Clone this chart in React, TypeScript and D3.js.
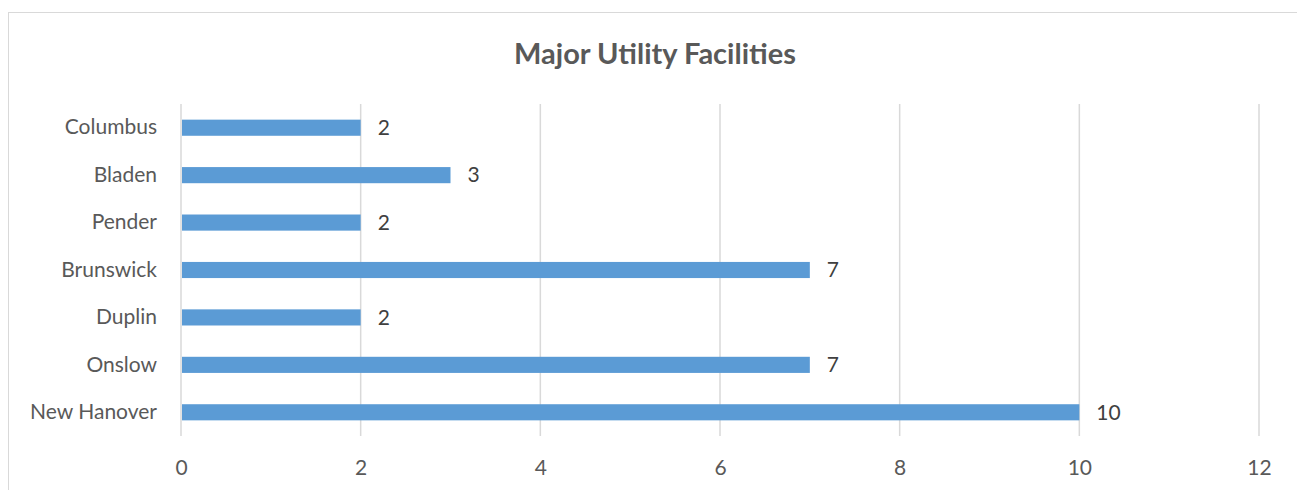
import React, { useEffect, useRef } from 'react'
import * as d3 from 'd3'

const counties = ['Columbus', 'Bladen', 'Pender', 'Brunswick', 'Duplin', 'Onslow', 'New Hanover']
const facilities = [2, 3, 2, 7, 2, 7, 10]
const xTicks = [0, 2, 4, 6, 8, 10, 12]

export default function App() {
  const ref = useRef<SVGSVGElement>(null)

  useEffect(() => {
    const width = 1297
    const height = 490
    const margin = { top: 104, right: 38, bottom: 54, left: 181 }
    const font = 'Lato, "Open Sans", sans-serif'

    const svg = d3.select(ref.current)
    svg.selectAll('*').remove()

    // chart frame
    svg.append('rect')
      .attr('x', 8.5).attr('y', 12.5)
      .attr('width', width + 20).attr('height', height + 20)
      .attr('fill', '#fff').attr('stroke', '#d9d9d9').attr('stroke-width', 1)

    const x = d3.scaleLinear()
      .domain([0, 12])
      .range([margin.left, width - margin.right])
    const y = d3.scaleBand()
      .domain(counties)
      .range([margin.top, height - margin.bottom])
      .paddingInner(0.66)
      .paddingOuter(0.33)

    svg.append('text')
      .attr('x', 655).attr('y', 64)
      .attr('text-anchor', 'middle')
      .attr('font-family', font)
      .attr('font-weight', 'bold')
      .attr('font-size', 29)
      .attr('fill', '#595959')
      .text('Major Utility Facilities')

    // gridlines
    svg.append('g')
      .selectAll('line')
      .data(xTicks)
      .join('line')
        .attr('x1', d => x(d)).attr('x2', d => x(d))
        .attr('y1', margin.top).attr('y2', height - margin.bottom)
        .attr('stroke', '#d9d9d9')
        .attr('stroke-width', 1.5)

    const xAxis = svg.append('g')
      .attr('transform', `translate(0,${height - margin.bottom})`)
      .call(d3.axisBottom(x).tickValues(xTicks).tickSize(0).tickPadding(24))
    xAxis.select('.domain').remove()
    xAxis.selectAll('text')
      .attr('font-family', font).attr('font-size', 21).attr('fill', '#595959')

    const yAxis = svg.append('g')
      .attr('transform', `translate(${margin.left},0)`)
      .call(d3.axisLeft(y).tickSize(0).tickPadding(24))
    yAxis.select('.domain').remove()
    yAxis.selectAll('text')
      .attr('font-family', font).attr('font-size', 21).attr('fill', '#595959')

    const data = counties.map((c, i) => ({ name: c, value: facilities[i] }))

    svg.append('g')
      .selectAll('rect')
      .data(data)
      .join('rect')
        .attr('x', x(0) + 1)
        .attr('y', d => y(d.name)!)
        .attr('width', d => x(d.value) - x(0) - 1)
        .attr('height', y.bandwidth())
        .attr('fill', '#5b9bd5')

    svg.append('g')
      .selectAll('text')
      .data(data)
      .join('text')
        .attr('x', d => x(d.value) + 17)
        .attr('y', d => y(d.name)! + y.bandwidth() / 2)
        .attr('dy', '0.35em')
        .attr('font-family', font)
        .attr('font-size', 21)
        .attr('fill', '#404040')
        .text(d => d.value)
  }, [])

  return (
    <svg ref={ref} width={1297} height={490}
      style={{ position: 'absolute', left: 0, top: 0, display: 'block' }} />
  )
}
